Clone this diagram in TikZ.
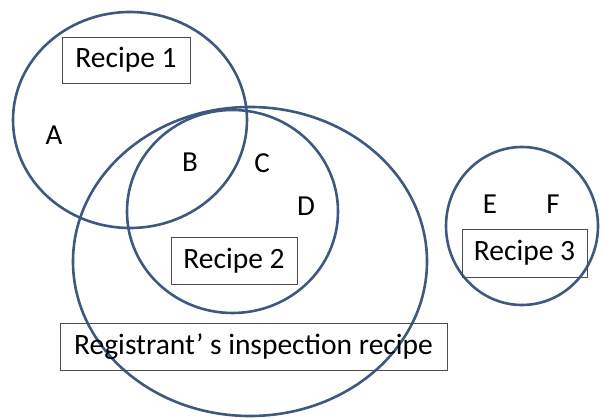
\documentclass[tikz,border=0pt]{standalone}
\usepackage{fontspec}
\setmainfont{Carlito}
\usepackage{tikz}
\usetikzlibrary{shapes,positioning}
\definecolor{setblue}{RGB}{62,88,128}

\begin{document}
\begin{tikzpicture}[x=1pt, y=-1pt]
% STYLES
\tikzset{%
    set/.style={%
ellipse,
draw=setblue,
line width=2.6pt,
inner sep=0pt,
outer sep=0pt
                },
    label box/.style={%
rectangle,
draw=black!70,
line width=0.8pt,
inner sep=0pt,
font=\fontsize{29.5}{32}\selectfont
                },
    member/.style={%
font=\fontsize{29}{32}\selectfont
                }
             }
\useasboundingbox (0,0) rectangle (603,419);

% Draw sets
\node [set, minimum width=234, minimum height=216] (recipeone) at (130,120) {};
\node [set, minimum width=354, minimum height=309] (registrant) at (250,261.5) {};
\node [set, minimum width=211, minimum height=203] (recipetwo) at (232.5,211.5) {};
\node [set, minimum width=152, minimum height=158] (recipethree) at (522,226) {};

% Draw set names
\node [label box, minimum width=128, minimum height=46] (nameone) at (126,60) {Recipe 1};
\node [label box, minimum width=126, minimum height=47] (nametwo) at (234,260.5) {Recipe 2};
\node [label box, minimum width=125, minimum height=48] (namethree) at (524.5,253) {Recipe 3};
\node [label box, minimum width=387, minimum height=47] (nameregistrant) at (253.5,346.5) {Registrant’ s inspection recipe};

% Draw members
\node [member] (a) at (54,135) {A};
\node [member] (b) at (190,162) {B};
\node [member] (c) at (262,163) {C};
\node [member] (d) at (306,206) {D};
\node [member] (e) at (490,204) {E};
\node [member] (f) at (553,204) {F};
\end{tikzpicture}
\end{document}
